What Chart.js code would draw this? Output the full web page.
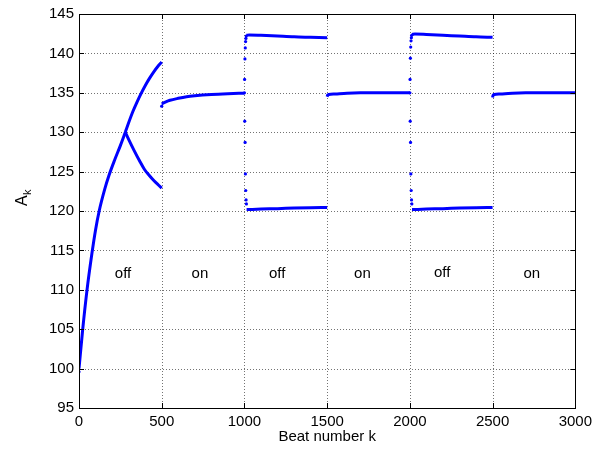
<!DOCTYPE html>
<html>
<head>
<meta charset="utf-8">
<script src="https://cdn.jsdelivr.net/npm/chart.js@4/dist/chart.umd.min.js"></script>
<style>
  html, body { margin: 0; padding: 0; background: #fff; }
  #wrap { width: 597px; height: 452px; }
</style>
</head>
<body>
<div id="wrap"><canvas id="beatChart"></canvas></div>
<script>
// first "off" period: common rise, then the two alternans branches
var riseK = [0, 22, 48, 78, 100, 122, 156, 181, 216, 250, 280];
var riseA = [100, 104.9, 109.9, 114.6, 117.6, 120, 122.8, 124.5, 126.5, 128.3, 130.0];
var upper1K = [280, 300, 325, 350, 375, 400, 425, 450, 475, 500];
var upper1A = [130.0, 131.2, 132.6, 133.8, 134.9, 135.9, 136.8, 137.6, 138.3, 138.9];
var lower1K = [280, 300, 335, 365, 395, 425, 455, 480, 500];
var lower1A = [130.0, 129.1, 127.6, 126.4, 125.3, 124.5, 123.8, 123.3, 122.9];

// "on" periods
var on1K = [500, 525, 550, 600, 650, 700, 800, 900, 1000];
var on1A = [133.6, 133.85, 134.05, 134.3, 134.5, 134.62, 134.78, 134.88, 134.95];
var on2K = [1500, 1503, 1510, 1550, 1620, 1700, 2000];
var on2A = [134.5, 134.7, 134.78, 134.85, 134.95, 135, 135];
var on3K = [2500, 2503, 2510, 2550, 2620, 2700, 3000];
var on3A = [134.4, 134.7, 134.78, 134.85, 134.95, 135, 135];

// transient beats when the control switches off
var jump1K = [0, 500, 1000, 1001, 1002, 1003, 1004, 1005, 1006, 1007, 1008, 1009, 1010, 1011, 1012];
var jump1A = [99.6, 133.3, 135, 136.7, 131.4, 139.3, 128.7, 140.7, 124.7, 141.5, 122.6, 141.9, 121.4, 142.2, 120.9];
var jump2K = [2000, 2001, 2002, 2003, 2004, 2005, 2006, 2007, 2008, 2009, 2010, 2011, 2012];
var jump2A = [135, 136.7, 131.4, 139.4, 128.7, 140.8, 124.7, 141.6, 122.6, 142, 121.4, 142.3, 120.9];

// later "off" periods, upper and lower branches
var upper2K = [1012, 1030, 1100, 1200, 1300, 1400, 1500];
var upper2A = [142.3, 142.35, 142.3, 142.2, 142.1, 142.05, 142.0];
var lower2K = [1013, 1030, 1100, 1200, 1300, 1400, 1500];
var lower2A = [120.2, 120.2, 120.25, 120.3, 120.37, 120.42, 120.45];
var upper3K = [2012, 2030, 2100, 2200, 2300, 2400, 2500];
var upper3A = [142.4, 142.45, 142.4, 142.3, 142.2, 142.1, 142.05];
var lower3K = [2013, 2030, 2100, 2200, 2300, 2400, 2500];
var lower3A = [120.2, 120.2, 120.25, 120.3, 120.37, 120.42, 120.45];

// on/off annotations
var labelK = [266, 731, 1198, 1713, 2195, 2737];
var labelA = [112, 112, 112, 112, 112.2, 112];
var labelText = ['off', 'on', 'off', 'on', 'off', 'on'];

var Blue = '#0000ff';
var FontName = '"Liberation Sans", Arial, Helvetica, sans-serif';

function pts(ks, vals) {
    return ks.map(function (k, i) { return { x: k, y: vals[i] }; });
}

function curve(ks, vals) {
    return {
        data: pts(ks, vals),
        borderColor: Blue,
        borderWidth: 3,
        pointRadius: 0,
        cubicInterpolationMode: 'monotone',
        fill: false
    };
}

function dots(ks, vals) {
    return {
        data: pts(ks, vals),
        showLine: false,
        pointRadius: 1.6,
        pointBorderWidth: 0,
        pointBackgroundColor: Blue,
        borderColor: Blue
    };
}

// dotted grid behind the data
var dottedGrid = {
    id: 'dottedGrid',
    beforeDatasetsDraw: function (chart) {
        var c = chart.ctx, a = chart.chartArea;
        var xs = chart.scales.x, ys = chart.scales.y;
        c.save();
        c.strokeStyle = 'rgba(0,0,0,0.55)';
        c.lineWidth = 1;
        c.setLineDash([1, 2]);
        c.beginPath();
        xs.ticks.forEach(function (t) {
            var px = Math.round(xs.getPixelForValue(t.value)) + 0.5;
            c.moveTo(px, a.top); c.lineTo(px, a.bottom);
        });
        ys.ticks.forEach(function (t) {
            var py = Math.round(ys.getPixelForValue(t.value)) + 0.5;
            c.moveTo(a.left, py); c.lineTo(a.right, py);
        });
        c.stroke();
        c.restore();
    }
};

// box, inward ticks, text labels and y title
var matlabAxes = {
    id: 'matlabAxes',
    afterDatasetsDraw: function (chart) {
        var c = chart.ctx, a = chart.chartArea;
        var xs = chart.scales.x, ys = chart.scales.y;
        c.save();
        c.strokeStyle = '#000';
        c.lineWidth = 1;
        c.beginPath();
        xs.ticks.forEach(function (t) {
            var px = Math.round(xs.getPixelForValue(t.value)) + 0.5;
            c.moveTo(px, a.bottom); c.lineTo(px, a.bottom - 5);
            c.moveTo(px, a.top); c.lineTo(px, a.top + 5);
        });
        ys.ticks.forEach(function (t) {
            var py = Math.round(ys.getPixelForValue(t.value)) + 0.5;
            c.moveTo(a.left, py); c.lineTo(a.left + 5, py);
            c.moveTo(a.right, py); c.lineTo(a.right - 5, py);
        });
        c.stroke();
        c.strokeRect(Math.round(a.left) + 0.5, Math.round(a.top) + 0.5,
            Math.round(a.right - a.left), Math.round(a.bottom - a.top));

        c.fillStyle = '#000';
        c.font = '15px ' + FontName;
        c.textAlign = 'center';
        c.textBaseline = 'middle';
        labelText.forEach(function (s, i) {
            c.fillText(s, xs.getPixelForValue(labelK[i]), ys.getPixelForValue(labelA[i]));
        });

        c.translate(22, 200);
        c.rotate(-Math.PI / 2);
        c.textAlign = 'left';
        c.textBaseline = 'alphabetic';
        c.font = '16px ' + FontName;
        c.fillText('A', -6, 5);
        c.font = '11px ' + FontName;
        c.fillText('k', 5, 9);
        c.restore();
    }
};

var ctx = document.getElementById('beatChart');

var beatChart = new Chart(ctx, {
    type: 'line',
    plugins: [dottedGrid, matlabAxes],
    data: {
        datasets: [
            curve(riseK, riseA),
            curve(upper1K, upper1A),
            curve(lower1K, lower1A),
            curve(on1K, on1A),
            curve(upper2K, upper2A),
            curve(lower2K, lower2A),
            curve(on2K, on2A),
            curve(upper3K, upper3A),
            curve(lower3K, lower3A),
            curve(on3K, on3A),
            dots(jump1K, jump1A),
            dots(jump2K, jump2A)
        ]
    },
    options: {
        responsive: true,
        maintainAspectRatio: false,
        animation: false,
        layout: { padding: { top: 13, right: 17, left: 0, bottom: 0 } },
        plugins: {
            legend: { display: false },
            tooltip: { enabled: false }
        },
        scales: {
            x: {
                type: 'linear',
                min: 0,
                max: 3000,
                afterFit: function (scale) { scale.height = 44; },
                ticks: {
                    stepSize: 500,
                    maxRotation: 0,
                    color: '#000',
                    padding: 5,
                    font: { family: FontName, size: 15 },
                    callback: function (v) { return String(v); }
                },
                grid: { display: false, drawTicks: false },
                border: { display: false },
                title: {
                    display: true,
                    text: 'Beat number k',
                    color: '#000',
                    padding: { top: 0, bottom: 6 },
                    font: { family: FontName, size: 15 }
                }
            },
            y: {
                type: 'linear',
                min: 95,
                max: 145,
                afterFit: function (scale) { scale.width = 79; },
                ticks: {
                    stepSize: 5,
                    color: '#000',
                    padding: 5,
                    font: { family: FontName, size: 15 },
                    callback: function (v) { return String(v); }
                },
                grid: { display: false, drawTicks: false },
                border: { display: false }
            }
        }
    }
});
</script>
</body>
</html>
